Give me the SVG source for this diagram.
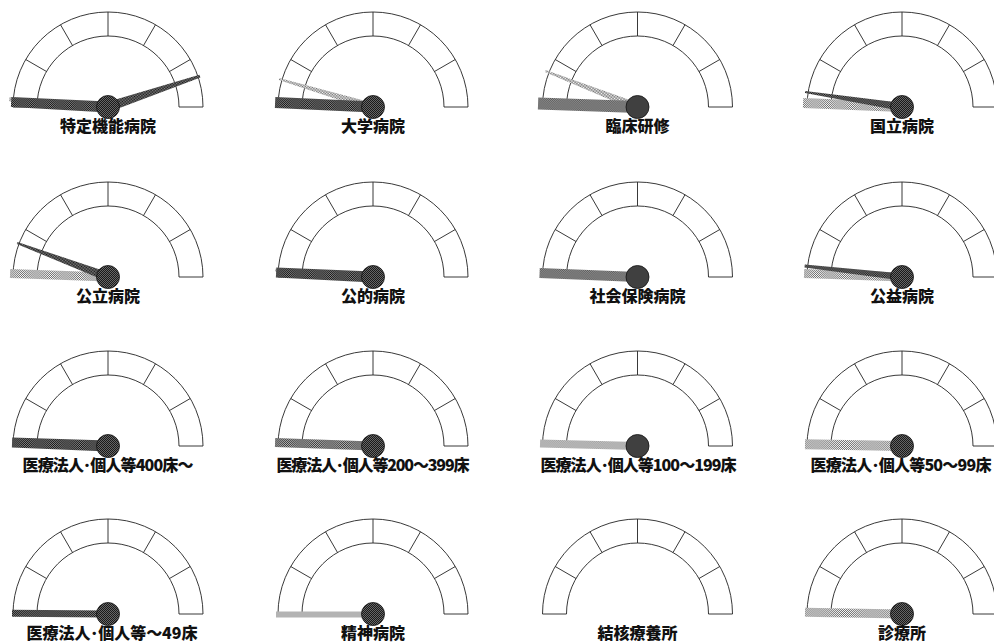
<svg xmlns="http://www.w3.org/2000/svg" width="994" height="644" viewBox="0 0 994 644">
<style>
.dial{fill:#fff;stroke:#222;stroke-width:0.9}
.div{stroke:#222;stroke-width:0.9}
.lbl{font-family:"Noto Sans CJK JP","Noto Sans",sans-serif;font-weight:900;font-size:16px;fill:#111;text-anchor:middle}
.nd{fill:url(#pDark)}
.nm{fill:url(#pMed)}
.nl{fill:url(#pLight)}
.hub{fill:url(#pHub);stroke:#111;stroke-width:0.8}
</style>
<defs>
<pattern id="pDark" width="2" height="2" patternUnits="userSpaceOnUse"><rect width="2" height="2" fill="#888"/><rect width="1" height="1" fill="#111"/><rect x="1" y="1" width="1" height="1" fill="#111"/></pattern>
<pattern id="pMed" width="2" height="2" patternUnits="userSpaceOnUse"><rect width="2" height="2" fill="#bbb"/><rect width="1" height="1" fill="#333"/><rect x="1" y="1" width="1" height="1" fill="#333"/></pattern>
<pattern id="pLight" width="2" height="2" patternUnits="userSpaceOnUse"><rect width="2" height="2" fill="#fff"/><rect width="1" height="1" fill="#666"/><rect x="1" y="1" width="1" height="1" fill="#666"/></pattern>
<pattern id="pHub" width="2" height="2" patternUnits="userSpaceOnUse"><rect width="2" height="2" fill="#666"/><rect width="1" height="1" fill="#1a1a1a"/><rect x="1" y="1" width="1" height="1" fill="#1a1a1a"/></pattern>
<g id="dial">
<path class="dial" d="M -95,0 A 95 95 0 0 1 95,0 L 71,0 A 71 71 0 0 0 -71,0 Z"/>
<path class="div" d="M61.49,-35.5 L82.27,-47.5 M35.5,-61.49 L47.5,-82.27 M0,-71 L0,-95 M-35.5,-61.49 L-47.5,-82.27 M-61.49,-35.5 L-82.27,-47.5"/>
</g>
</defs>

<g id="g1" transform="translate(108,107)">
<use href="#dial"/>
<polygon class="nl" points="0,-4 -99,-2 -99,2 0,4" transform="rotate(4.5)"/>
<polygon class="nd" points="0,-5.5 -97,-5 -97,5 0,5.5" transform="rotate(3)"/>
<polygon class="nd" points="0,-5 97,-1.5 97,1.5 0,5" transform="rotate(-18.6)"/>
<circle class="hub" r="11.5"/>
<text class="lbl" x="0" y="25">特定機能病院</text>
</g>

<g id="g2" transform="translate(373,107)">
<use href="#dial"/>
<polygon class="nl" points="0,-4 -98,-1 -98,1 0,4" transform="rotate(16.6)"/>
<polygon class="nd" points="0,-5.5 -98,-5.5 -98,5.5 0,5.5" transform="rotate(2.6)"/>
<circle class="hub" r="11.5"/>
<text class="lbl" x="0" y="25">大学病院</text>
</g>

<g id="g3" transform="translate(637.5,107)">
<use href="#dial"/>
<polygon class="nl" points="0,-4 -99,-1 -99,1 0,4" transform="rotate(21.3)"/>
<polygon class="nm" points="0,-6 -99.5,-6 -99.5,6 0,6" transform="rotate(2)"/>
<circle class="hub" r="11.5"/>
<text class="lbl" x="0" y="25">臨床研修</text>
</g>

<g id="g4" transform="translate(902,107)">
<use href="#dial"/>
<polygon class="nl" points="0,-5 -99,-5 -99,5 0,5" transform="rotate(2.3)"/>
<polygon class="nd" points="0,-4 -98,-1 -98,1 0,4" transform="rotate(8.8)"/>
<circle class="hub" r="11.5"/>
<text class="lbl" x="0" y="25">国立病院</text>
</g>

<g id="g5" transform="translate(108,277)">
<use href="#dial"/>
<polygon class="nl" points="0,-4.5 -98,-4.5 -98,4.5 0,4.5" transform="rotate(2)"/>
<polygon class="nd" points="0,-4.5 -97,-1 -97,1 0,4.5" transform="rotate(20.5)"/>
<circle class="hub" r="11.5"/>
<text class="lbl" x="0" y="25">公立病院</text>
</g>

<g id="g6" transform="translate(373,277)">
<use href="#dial"/>
<polygon class="nl" points="0,-3 -98,-1.5 -98,1.5 0,3" transform="rotate(4)"/>
<polygon class="nd" points="0,-5.5 -97,-5 -97,5 0,5.5" transform="rotate(2.7)"/>
<circle class="hub" r="11.5"/>
<text class="lbl" x="0" y="25">公的病院</text>
</g>

<g id="g7" transform="translate(637.5,277)">
<use href="#dial"/>
<polygon class="nm" points="0,-5 -98,-5 -98,5 0,5" transform="rotate(2.3)"/>
<circle class="hub" r="11.5"/>
<text class="lbl" x="0" y="25">社会保険病院</text>
</g>

<g id="g8" transform="translate(902,277)">
<use href="#dial"/>
<polygon class="nl" points="0,-4.5 -98,-4.5 -98,4.5 0,4.5" transform="rotate(2)"/>
<polygon class="nd" points="0,-3.5 -98,-1.5 -98,1.5 0,3.5" transform="rotate(6.5)"/>
<circle class="hub" r="11.5"/>
<text class="lbl" x="0" y="25">公益病院</text>
</g>

<g id="g9" transform="translate(108,446)">
<use href="#dial"/>
<polygon class="nl" points="0,-3 -96,-1.5 -96,1.5 0,3" transform="rotate(3.5)"/>
<polygon class="nd" points="0,-5.5 -96,-5 -96,5 0,5.5" transform="rotate(2.1)"/>
<circle class="hub" r="11.5"/>
<text class="lbl" x="0" y="25" textLength="171" lengthAdjust="spacing">医療法人･個人等400床～</text>
</g>

<g id="g10" transform="translate(373,446)">
<use href="#dial"/>
<polygon class="nm" points="0,-4.5 -98,-4.5 -98,4.5 0,4.5" transform="rotate(2)"/>
<circle class="hub" r="11.5"/>
<text class="lbl" x="0" y="25" textLength="193" lengthAdjust="spacing">医療法人･個人等200～399床</text>
</g>

<g id="g11" transform="translate(637.5,446)">
<use href="#dial"/>
<polygon class="nl" points="0,-4 -97.5,-4 -97.5,4 0,4" transform="rotate(1.5)"/>
<circle class="hub" r="11.5"/>
<text class="lbl" x="1" y="25" textLength="196" lengthAdjust="spacing">医療法人･個人等100～199床</text>
</g>

<g id="g12" transform="translate(902,446)">
<use href="#dial"/>
<polygon class="nl" points="0,-5 -97,-5 -97,5 0,5" transform="rotate(1)"/>
<circle class="hub" r="11.5"/>
<text class="lbl" x="-1" y="25" textLength="181" lengthAdjust="spacing">医療法人･個人等50～99床</text>
</g>

<g id="g13" transform="translate(108,614)">
<use href="#dial"/>
<polygon class="nd" points="0,-3.5 -96,-3.5 -96,3.5 0,3.5" transform="rotate(0.5)"/>
<circle class="hub" r="11.5"/>
<text class="lbl" x="4" y="25" textLength="171" lengthAdjust="spacing">医療法人･個人等～49床</text>
</g>

<g id="g14" transform="translate(373,614)">
<use href="#dial"/>
<polygon class="nl" points="0,-3 -97,-3 -97,3 0,3" transform="translate(0,0.5)"/>
<circle class="hub" r="11.5"/>
<text class="lbl" x="0" y="25">精神病院</text>
</g>

<g id="g15" transform="translate(637.5,614)">
<use href="#dial"/>
<text class="lbl" x="0" y="25">結核療養所</text>
</g>

<g id="g16" transform="translate(902,614)">
<use href="#dial"/>
<polygon class="nl" points="0,-4.5 -97,-4.5 -97,4.5 0,4.5" transform="rotate(1)"/>
<circle class="hub" r="11.5"/>
<text class="lbl" x="0" y="25">診療所</text>
</g>
</svg>
